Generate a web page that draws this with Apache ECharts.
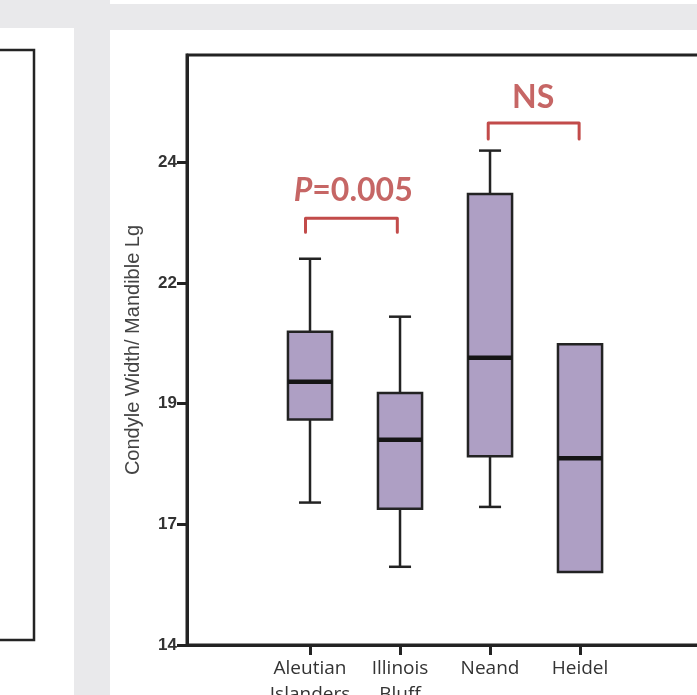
<!DOCTYPE html>
<html>
<head>
<meta charset="utf-8">
<script src="https://cdn.jsdelivr.net/npm/echarts@6/dist/echarts.min.js"></script>
<style>
html, body { margin: 0; padding: 0; background: #fff; }
#chart { width: 697px; height: 695px; }
</style>
</head>
<body>
<div id="chart"></div>
<script>
// groups along the x axis
var groups = ['Aleutian\nIslanders', 'Illinois\nBluff', 'Neand', 'Heidel'];
var groupPos = [1, 2, 3, 4];
// box statistics
var whiskerLow = [16.95, 15.62, 16.86, 15.51];
var boxLow = [18.67, 16.82, 17.91, 15.51];
var medians = [19.45, 18.25, 19.95, 17.87];
var boxHigh = [20.49, 19.22, 23.34, 20.23];
var whiskerHigh = [22.0, 20.80, 24.24, 20.23];
// y ticks (labels are rounded)
var yTicks = [14, 16.5, 19, 21.5, 24];
// comparison brackets
var bracketFrom = [0.95, 2.98];
var bracketTo = [1.97, 3.99];
var bracketLeg = [22.55, 24.48];
var bracketTop = [22.84, 24.81];
var bracketText = ['{i|P}{n|=0.005}', '{n|NS}'];
var textX = [1.48, 3.48];
var textY = [23.42, 25.34];

var myChart = echarts.init(document.getElementById('chart'));

var boxData = groupPos.map(function (p, i) {
    return [p, whiskerLow[i], boxLow[i], medians[i], boxHigh[i], whiskerHigh[i]];
});

var ink = '#232323';
var red = '#c24b4a';
var redText = '#b8403f';

function renderBox (params, api) {
    var x = api.value(0);
    var low = api.coord([x, api.value(1)]);
    var q1 = api.coord([x, api.value(2)]);
    var med = api.coord([x, api.value(3)]);
    var q3 = api.coord([x, api.value(4)]);
    var high = api.coord([x, api.value(5)]);
    var w = api.size([0.49, 0])[0];
    var cx = q1[0];
    var children = [];
    var lineStyle = { stroke: ink, lineWidth: 2.5 };
    if (high[1] < q3[1] - 1) {
        children.push({ type: 'line', shape: { x1: cx, y1: q3[1], x2: cx, y2: high[1] }, style: lineStyle });
        children.push({ type: 'line', shape: { x1: cx - w / 4, y1: high[1], x2: cx + w / 4, y2: high[1] }, style: lineStyle });
    }
    if (low[1] > q1[1] + 1) {
        children.push({ type: 'line', shape: { x1: cx, y1: q1[1], x2: cx, y2: low[1] }, style: lineStyle });
        children.push({ type: 'line', shape: { x1: cx - w / 4, y1: low[1], x2: cx + w / 4, y2: low[1] }, style: lineStyle });
    }
    children.push({
        type: 'rect',
        shape: { x: cx - w / 2, y: q3[1], width: w, height: q1[1] - q3[1] },
        style: { fill: '#ae9fc4', stroke: ink, lineWidth: 2.5 }
    });
    children.push({
        type: 'line',
        shape: { x1: cx - w / 2, y1: med[1], x2: cx + w / 2, y2: med[1] },
        style: { stroke: '#151515', lineWidth: 4.5 }
    });
    return { type: 'group', children: children };
}

var series = [{
    type: 'custom',
    renderItem: renderBox,
    encode: { x: 0, y: [1, 2, 3, 4, 5] },
    data: boxData,
    silent: true
}];

bracketFrom.forEach(function (f, i) {
    series.push({
        type: 'line',
        data: [[f, bracketLeg[i]], [f, bracketTop[i]], [bracketTo[i], bracketTop[i]], [bracketTo[i], bracketLeg[i]]],
        showSymbol: false,
        symbol: 'none',
        silent: true,
        lineStyle: { color: red, width: 3, cap: 'round', join: 'round' }
    });
});

series.push({
    type: 'scatter',
    symbolSize: 1,
    itemStyle: { color: 'transparent' },
    silent: true,
    data: textX.map(function (x, i) { return [x, textY[i]]; }),
    label: {
        show: true,
        position: 'inside',
        formatter: function (p) { return bracketText[p.dataIndex]; },
        rich: {
            i: { fontFamily: 'Lato', fontWeight: 'bold', fontStyle: 'italic', fontSize: 32, color: redText },
            n: { fontFamily: 'Lato', fontWeight: 'bold', fontSize: 32, color: redText }
        }
    }
});

var option = {
    animation: false,
    backgroundColor: '#fff',
    grid: {
        left: 187,
        top: 55,
        right: -13,
        bottom: 50,
        show: true,
        borderColor: ink,
        borderWidth: 3,
        outerBoundsMode: 'none'
    },
    xAxis: {
        type: 'value',
        min: -0.3667,
        max: 5.444,
        splitLine: { show: false },
        axisLine: { onZero: false, lineStyle: { color: ink, width: 3 } },
        axisTick: { customValues: groupPos, length: 10, lineStyle: { color: ink, width: 3 } },
        axisLabel: {
            customValues: groupPos,
            formatter: function (v) { return groups[Math.round(v) - 1]; },
            margin: 11,
            fontFamily: 'Open Sans',
            fontSize: 19,
            lineHeight: 26,
            color: '#333'
        }
    },
    yAxis: {
        type: 'value',
        min: 14,
        max: 26.22,
        name: 'Condyle Width/ Mandible Lg',
        nameLocation: 'middle',
        nameGap: 44,
        nameTextStyle: { fontFamily: 'Liberation Sans', fontSize: 20, color: '#444' },
        splitLine: { show: false },
        axisLine: { onZero: false, lineStyle: { color: ink, width: 3 } },
        axisTick: { customValues: yTicks, length: 10, lineStyle: { color: ink, width: 3 } },
        axisLabel: {
            customValues: yTicks,
            formatter: function (v) { return String(Math.round(v)); },
            margin: 10,
            fontFamily: "'Liberation Sans Narrow', 'Liberation Sans', sans-serif",
            fontWeight: 'bold',
            fontSize: 17,
            color: '#333'
        }
    },
    graphic: [
        { type: 'rect', shape: { x: 0, y: 0, width: 110, height: 28 }, style: { fill: '#e9e9eb' }, silent: true },
        { type: 'rect', shape: { x: 110, y: 4, width: 587, height: 26 }, style: { fill: '#e9e9eb' }, silent: true },
        { type: 'rect', shape: { x: 74, y: 0, width: 36, height: 695 }, style: { fill: '#e9e9eb' }, silent: true },
        {
            type: 'polyline',
            shape: { points: [[0, 50], [34, 50], [34, 640], [0, 640]] },
            style: { stroke: ink, lineWidth: 2.5, fill: null },
            silent: true
        }
    ],
    series: series
};

option && myChart.setOption(option);
</script>
</body>
</html>
